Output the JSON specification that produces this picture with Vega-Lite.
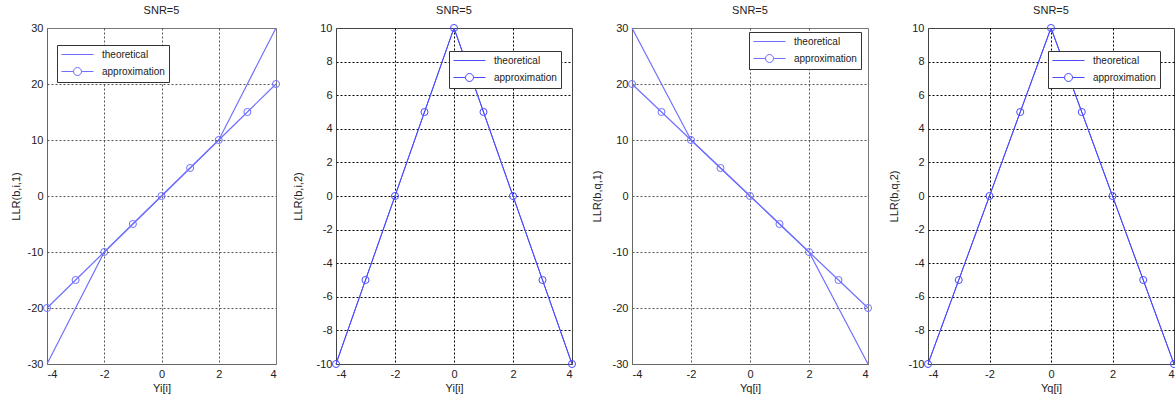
{
  "$schema": "https://vega.github.io/schema/vega-lite/v6.json",
  "padding": {"left": 9, "top": 4, "right": 0, "bottom": 0},
  "background": "white",
  "bounds": "flush",
  "spacing": 60,
  "resolve": {"scale": {"color": "independent"}, "legend": {"color": "independent"}},
  "config": {
    "font": "Liberation Sans",
    "axis": {"ticks": false, "labelFont": "Liberation Sans", "labelFontSize": 11, "labelColor": "#222", "titleFont": "Liberation Sans", "titleFontSize": 11, "titleFontWeight": "normal", "titleColor": "#222", "labelPadding": 4, "gridDash": [2, 2], "gridColor": "#000", "gridWidth": 1, "domainColor": "#666", "labelExpr": "toString(datum.value)"},
    "axisX": {"titlePadding": 3},
    "axisY": {"titlePadding": 6},
    "title": {"font": "Liberation Sans", "fontSize": 11, "fontWeight": "normal", "color": "#222", "offset": 6},
    "legend": {"orient": "none", "title": null, "symbolSize": 100, "symbolOffset": 11, "labelOffset": 19, "rowPadding": 5, "padding": 4, "strokeColor": "#333", "fillColor": "#fff", "labelFont": "Liberation Sans", "labelFontSize": 10, "labelColor": "#222", "symbolStrokeWidth": 1}
  },
  "hconcat": [
    {
      "width": 229, "height": 336,
      "title": "SNR=5",
      "view": {"stroke": "#777"},
      "data": {"values": [
        {"x": -4, "y": -30, "s": "theoretical"}, {"x": -3, "y": -20, "s": "theoretical"}, {"x": -2, "y": -10, "s": "theoretical"}, {"x": -1, "y": -5, "s": "theoretical"}, {"x": 0, "y": 0, "s": "theoretical"}, {"x": 1, "y": 5, "s": "theoretical"}, {"x": 2, "y": 10, "s": "theoretical"}, {"x": 3, "y": 20, "s": "theoretical"}, {"x": 4, "y": 30, "s": "theoretical"},
        {"x": -4, "y": -20, "s": "approximation"}, {"x": -3, "y": -15, "s": "approximation"}, {"x": -2, "y": -10, "s": "approximation"}, {"x": -1, "y": -5, "s": "approximation"}, {"x": 0, "y": 0, "s": "approximation"}, {"x": 1, "y": 5, "s": "approximation"}, {"x": 2, "y": 10, "s": "approximation"}, {"x": 3, "y": 15, "s": "approximation"}, {"x": 4, "y": 20, "s": "approximation"}
      ]},
      "encoding": {
        "x": {"field": "x", "type": "quantitative", "scale": {"domain": [-4, 4], "nice": false}, "axis": {"values": [-4, -2, 0, 2, 4], "title": "Yi[i]", "gridColor": "#555", "gridOpacity": {"condition": {"test": "abs(datum.value) === 4", "value": 0}, "value": 1}}},
        "y": {"field": "y", "type": "quantitative", "scale": {"domain": [-30, 30], "nice": false}, "axis": {"values": [-30, -20, -10, 0, 10, 20, 30], "title": "LLR(b,i,1)", "titlePadding": 6, "gridColor": "#555", "gridOpacity": {"condition": {"test": "abs(datum.value) === 30", "value": 0}, "value": 1}}},
        "color": {"field": "s", "type": "nominal", "scale": {"domain": ["theoretical", "approximation"], "range": ["#6f6fff", "#6f6fff"]},
          "legend": {"legendX": 10, "legendY": 17, "encoding": {"symbols": {"shape": {"value": {"expr": "datum.value === 'theoretical' ? 'M-3.2,0H3.2' : 'M-3.2,0H-0.8M0.8,0H3.2M0.8,0A0.8,0.8,0,1,1,-0.8,0A0.8,0.8,0,1,1,0.8,0'"}}, "fill": {"value": "transparent"}, "strokeWidth": {"value": 1}, "opacity": {"value": 1}}}}}
      },
      "layer": [
        {"mark": {"type": "line", "strokeWidth": 1.2}},
        {"transform": [{"filter": "datum.s === 'approximation'"}], "mark": {"type": "point", "filled": false, "size": 50, "strokeWidth": 1, "opacity": 1}}
      ]
    },
    {
      "width": 236, "height": 336,
      "title": "SNR=5",
      "view": {"stroke": "#444"},
      "data": {"values": [
        {"x": -4, "y": -10, "s": "theoretical"}, {"x": -3, "y": -5, "s": "theoretical"}, {"x": -2, "y": 0, "s": "theoretical"}, {"x": -1, "y": 5, "s": "theoretical"}, {"x": 0, "y": 10, "s": "theoretical"}, {"x": 1, "y": 5, "s": "theoretical"}, {"x": 2, "y": 0, "s": "theoretical"}, {"x": 3, "y": -5, "s": "theoretical"}, {"x": 4, "y": -10, "s": "theoretical"},
        {"x": -4, "y": -10, "s": "approximation"}, {"x": -3, "y": -5, "s": "approximation"}, {"x": -2, "y": 0, "s": "approximation"}, {"x": -1, "y": 5, "s": "approximation"}, {"x": 0, "y": 10, "s": "approximation"}, {"x": 1, "y": 5, "s": "approximation"}, {"x": 2, "y": 0, "s": "approximation"}, {"x": 3, "y": -5, "s": "approximation"}, {"x": 4, "y": -10, "s": "approximation"}
      ]},
      "encoding": {
        "x": {"field": "x", "type": "quantitative", "scale": {"domain": [-4, 4], "nice": false}, "axis": {"values": [-4, -2, 0, 2, 4], "title": "Yi[i]", "domainColor": "#444", "gridOpacity": {"condition": {"test": "abs(datum.value) === 4", "value": 0}, "value": 1}}},
        "y": {"field": "y", "type": "quantitative", "scale": {"domain": [-10, 10], "nice": false}, "axis": {"values": [-10, -8, -6, -4, -2, 0, 2, 4, 6, 8, 10], "title": "LLR(b,i,2)", "titlePadding": 13, "domainColor": "#444", "gridOpacity": {"condition": {"test": "abs(datum.value) === 10", "value": 0}, "value": 1}}},
        "color": {"field": "s", "type": "nominal", "scale": {"domain": ["theoretical", "approximation"], "range": ["#4a4aff", "#4a4aff"]},
          "legend": {"legendX": 113, "legendY": 23, "encoding": {"symbols": {"shape": {"value": {"expr": "datum.value === 'theoretical' ? 'M-3.2,0H3.2' : 'M-3.2,0H-0.8M0.8,0H3.2M0.8,0A0.8,0.8,0,1,1,-0.8,0A0.8,0.8,0,1,1,0.8,0'"}}, "fill": {"value": "transparent"}, "strokeWidth": {"value": 1}, "opacity": {"value": 1}}}}}
      },
      "layer": [
        {"mark": {"type": "line", "strokeWidth": 1}},
        {"transform": [{"filter": "datum.s === 'approximation'"}], "mark": {"type": "point", "filled": false, "size": 50, "strokeWidth": 1, "opacity": 1}}
      ]
    },
    {
      "width": 236, "height": 336,
      "title": "SNR=5",
      "view": {"stroke": "#777"},
      "data": {"values": [
        {"x": -4, "y": 30, "s": "theoretical"}, {"x": -3, "y": 20, "s": "theoretical"}, {"x": -2, "y": 10, "s": "theoretical"}, {"x": -1, "y": 5, "s": "theoretical"}, {"x": 0, "y": 0, "s": "theoretical"}, {"x": 1, "y": -5, "s": "theoretical"}, {"x": 2, "y": -10, "s": "theoretical"}, {"x": 3, "y": -20, "s": "theoretical"}, {"x": 4, "y": -30, "s": "theoretical"},
        {"x": -4, "y": 20, "s": "approximation"}, {"x": -3, "y": 15, "s": "approximation"}, {"x": -2, "y": 10, "s": "approximation"}, {"x": -1, "y": 5, "s": "approximation"}, {"x": 0, "y": 0, "s": "approximation"}, {"x": 1, "y": -5, "s": "approximation"}, {"x": 2, "y": -10, "s": "approximation"}, {"x": 3, "y": -15, "s": "approximation"}, {"x": 4, "y": -20, "s": "approximation"}
      ]},
      "encoding": {
        "x": {"field": "x", "type": "quantitative", "scale": {"domain": [-4, 4], "nice": false}, "axis": {"values": [-4, -2, 0, 2, 4], "title": "Yq[i]", "gridColor": "#555", "gridOpacity": {"condition": {"test": "abs(datum.value) === 4", "value": 0}, "value": 1}}},
        "y": {"field": "y", "type": "quantitative", "scale": {"domain": [-30, 30], "nice": false}, "axis": {"values": [-30, -20, -10, 0, 10, 20, 30], "title": "LLR(b,q,1)", "titlePadding": 10, "gridColor": "#555", "gridOpacity": {"condition": {"test": "abs(datum.value) === 30", "value": 0}, "value": 1}}},
        "color": {"field": "s", "type": "nominal", "scale": {"domain": ["theoretical", "approximation"], "range": ["#6f6fff", "#6f6fff"]},
          "legend": {"legendX": 117, "legendY": 4, "encoding": {"symbols": {"shape": {"value": {"expr": "datum.value === 'theoretical' ? 'M-3.2,0H3.2' : 'M-3.2,0H-0.8M0.8,0H3.2M0.8,0A0.8,0.8,0,1,1,-0.8,0A0.8,0.8,0,1,1,0.8,0'"}}, "fill": {"value": "transparent"}, "strokeWidth": {"value": 1}, "opacity": {"value": 1}}}}}
      },
      "layer": [
        {"mark": {"type": "line", "strokeWidth": 1.2}},
        {"transform": [{"filter": "datum.s === 'approximation'"}], "mark": {"type": "point", "filled": false, "size": 50, "strokeWidth": 1, "opacity": 1}}
      ]
    },
    {
      "width": 246, "height": 336,
      "title": "SNR=5",
      "view": {"stroke": "#444"},
      "data": {"values": [
        {"x": -4, "y": -10, "s": "theoretical"}, {"x": -3, "y": -5, "s": "theoretical"}, {"x": -2, "y": 0, "s": "theoretical"}, {"x": -1, "y": 5, "s": "theoretical"}, {"x": 0, "y": 10, "s": "theoretical"}, {"x": 1, "y": 5, "s": "theoretical"}, {"x": 2, "y": 0, "s": "theoretical"}, {"x": 3, "y": -5, "s": "theoretical"}, {"x": 4, "y": -10, "s": "theoretical"},
        {"x": -4, "y": -10, "s": "approximation"}, {"x": -3, "y": -5, "s": "approximation"}, {"x": -2, "y": 0, "s": "approximation"}, {"x": -1, "y": 5, "s": "approximation"}, {"x": 0, "y": 10, "s": "approximation"}, {"x": 1, "y": 5, "s": "approximation"}, {"x": 2, "y": 0, "s": "approximation"}, {"x": 3, "y": -5, "s": "approximation"}, {"x": 4, "y": -10, "s": "approximation"}
      ]},
      "encoding": {
        "x": {"field": "x", "type": "quantitative", "scale": {"domain": [-4, 4], "nice": false}, "axis": {"values": [-4, -2, 0, 2, 4], "title": "Yq[i]", "domainColor": "#444", "gridOpacity": {"condition": {"test": "abs(datum.value) === 4", "value": 0}, "value": 1}}},
        "y": {"field": "y", "type": "quantitative", "scale": {"domain": [-10, 10], "nice": false}, "axis": {"values": [-10, -8, -6, -4, -2, 0, 2, 4, 6, 8, 10], "title": "LLR(b,q,2)", "titlePadding": 9, "domainColor": "#444", "gridOpacity": {"condition": {"test": "abs(datum.value) === 10", "value": 0}, "value": 1}}},
        "color": {"field": "s", "type": "nominal", "scale": {"domain": ["theoretical", "approximation"], "range": ["#4a4aff", "#4a4aff"]},
          "legend": {"legendX": 120, "legendY": 23, "encoding": {"symbols": {"shape": {"value": {"expr": "datum.value === 'theoretical' ? 'M-3.2,0H3.2' : 'M-3.2,0H-0.8M0.8,0H3.2M0.8,0A0.8,0.8,0,1,1,-0.8,0A0.8,0.8,0,1,1,0.8,0'"}}, "fill": {"value": "transparent"}, "strokeWidth": {"value": 1}, "opacity": {"value": 1}}}}}
      },
      "layer": [
        {"mark": {"type": "line", "strokeWidth": 1}},
        {"transform": [{"filter": "datum.s === 'approximation'"}], "mark": {"type": "point", "filled": false, "size": 50, "strokeWidth": 1, "opacity": 1}}
      ]
    }
  ]
}
